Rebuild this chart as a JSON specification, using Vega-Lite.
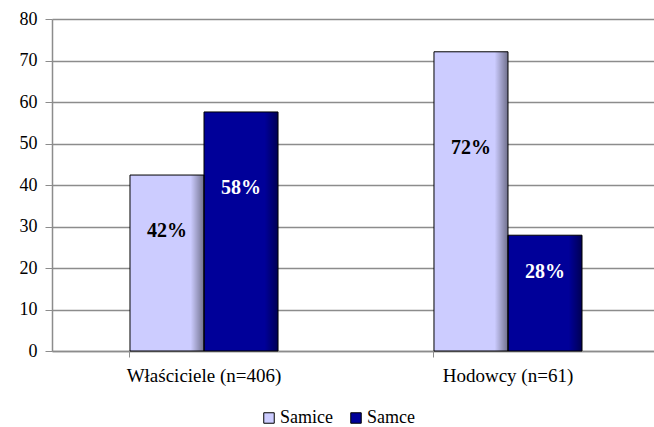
{
  "$schema": "https://vega.github.io/schema/vega-lite/v6.json",
  "width": 602,
  "height": 332,
  "autosize": {"type": "none"},
  "padding": {"left": 52, "top": 19, "right": 0, "bottom": 76},
  "background": "white",
  "config": {
    "font": "Liberation Serif",
    "view": {"stroke": null}
  },
  "data": {
    "values": [
      {"group": "Właściciele (n=406)", "series": "Samice", "value": 42.4, "label": "42%"},
      {"group": "Właściciele (n=406)", "series": "Samce", "value": 57.6, "label": "58%"},
      {"group": "Hodowcy (n=61)", "series": "Samice", "value": 72.1, "label": "72%"},
      {"group": "Hodowcy (n=61)", "series": "Samce", "value": 27.9, "label": "28%"}
    ]
  },
  "encoding": {
    "x": {
      "field": "group",
      "type": "nominal",
      "sort": ["Właściciele (n=406)", "Hodowcy (n=61)"],
      "scale": {"paddingInner": 0.513, "paddingOuter": 0.2467, "align": 0.52},
      "axis": {
        "title": null,
        "labelAngle": 0,
        "labelFont": "Liberation Serif",
        "labelFontSize": 19,
        "labelColor": "#000000",
        "labelPadding": 9,
        "domainColor": "#8c8c8c",
        "domainWidth": 1.5,
        "tickColor": "#8c8c8c",
        "tickSize": 6,
        "tickWidth": 1,
        "bandPosition": 0,
        "grid": false
      }
    },
    "xOffset": {
      "field": "series",
      "type": "nominal",
      "sort": ["Samice", "Samce"],
      "scale": {"paddingInner": 0, "paddingOuter": 0}
    }
  },
  "layer": [
    {
      "mark": {"type": "bar"},
      "encoding": {
        "y": {
          "field": "value",
          "type": "quantitative",
          "scale": {"domain": [0, 80]},
          "axis": {
            "title": null,
            "values": [0, 10, 20, 30, 40, 50, 60, 70, 80],
            "labelFont": "Liberation Serif",
            "labelFontSize": 18,
            "labelColor": "#000000",
            "labelPadding": 8,
            "tickSize": 7,
            "tickColor": "#8c8c8c",
            "tickWidth": 1,
            "domainColor": "#8c8c8c",
            "domainWidth": 1.5,
            "grid": true,
            "gridColor": "#8c8c8c",
            "gridWidth": 1.5
          }
        },
        "color": {
          "field": "series",
          "type": "nominal",
          "sort": ["Samice", "Samce"],
          "scale": {"domain": ["Samice", "Samce"], "range": ["#CCCCFF", "#000099"]},
          "legend": {
            "title": null,
            "orient": "none",
            "legendX": 208,
            "legendY": 390,
            "direction": "horizontal",
            "symbolType": "square",
            "symbolSize": 110,
            "symbolStrokeColor": "#000000",
            "symbolStrokeWidth": 1,
            "labelFont": "Liberation Serif",
            "labelFontSize": 18,
            "labelColor": "#000000",
            "labelOffset": 2,
            "columnPadding": 14
          }
        }
      }
    },
    {
      "mark": {
        "type": "bar",
        "stroke": "#000000",
        "strokeWidth": 1,
        "fill": {
          "gradient": "linear",
          "x1": 0, "y1": 0, "x2": 1, "y2": 0,
          "stops": [
            {"offset": 0, "color": "rgba(0,0,0,0)"},
            {"offset": 0.82, "color": "rgba(0,0,0,0)"},
            {"offset": 1, "color": "rgba(0,0,0,0.45)"}
          ]
        }
      },
      "encoding": {
        "y": {"field": "value", "type": "quantitative"}
      }
    },
    {
      "transform": [{"calculate": "datum.value * 0.68", "as": "labelPos"}],
      "mark": {
        "type": "text",
        "font": "Liberation Serif",
        "fontSize": 20,
        "fontWeight": "bold",
        "baseline": "middle",
        "align": "center"
      },
      "encoding": {
        "y": {"field": "labelPos", "type": "quantitative"},
        "text": {"field": "label"},
        "color": {
          "condition": {"test": "datum.series === 'Samce'", "value": "#FFFFFF"},
          "value": "#000000"
        }
      }
    }
  ]
}
